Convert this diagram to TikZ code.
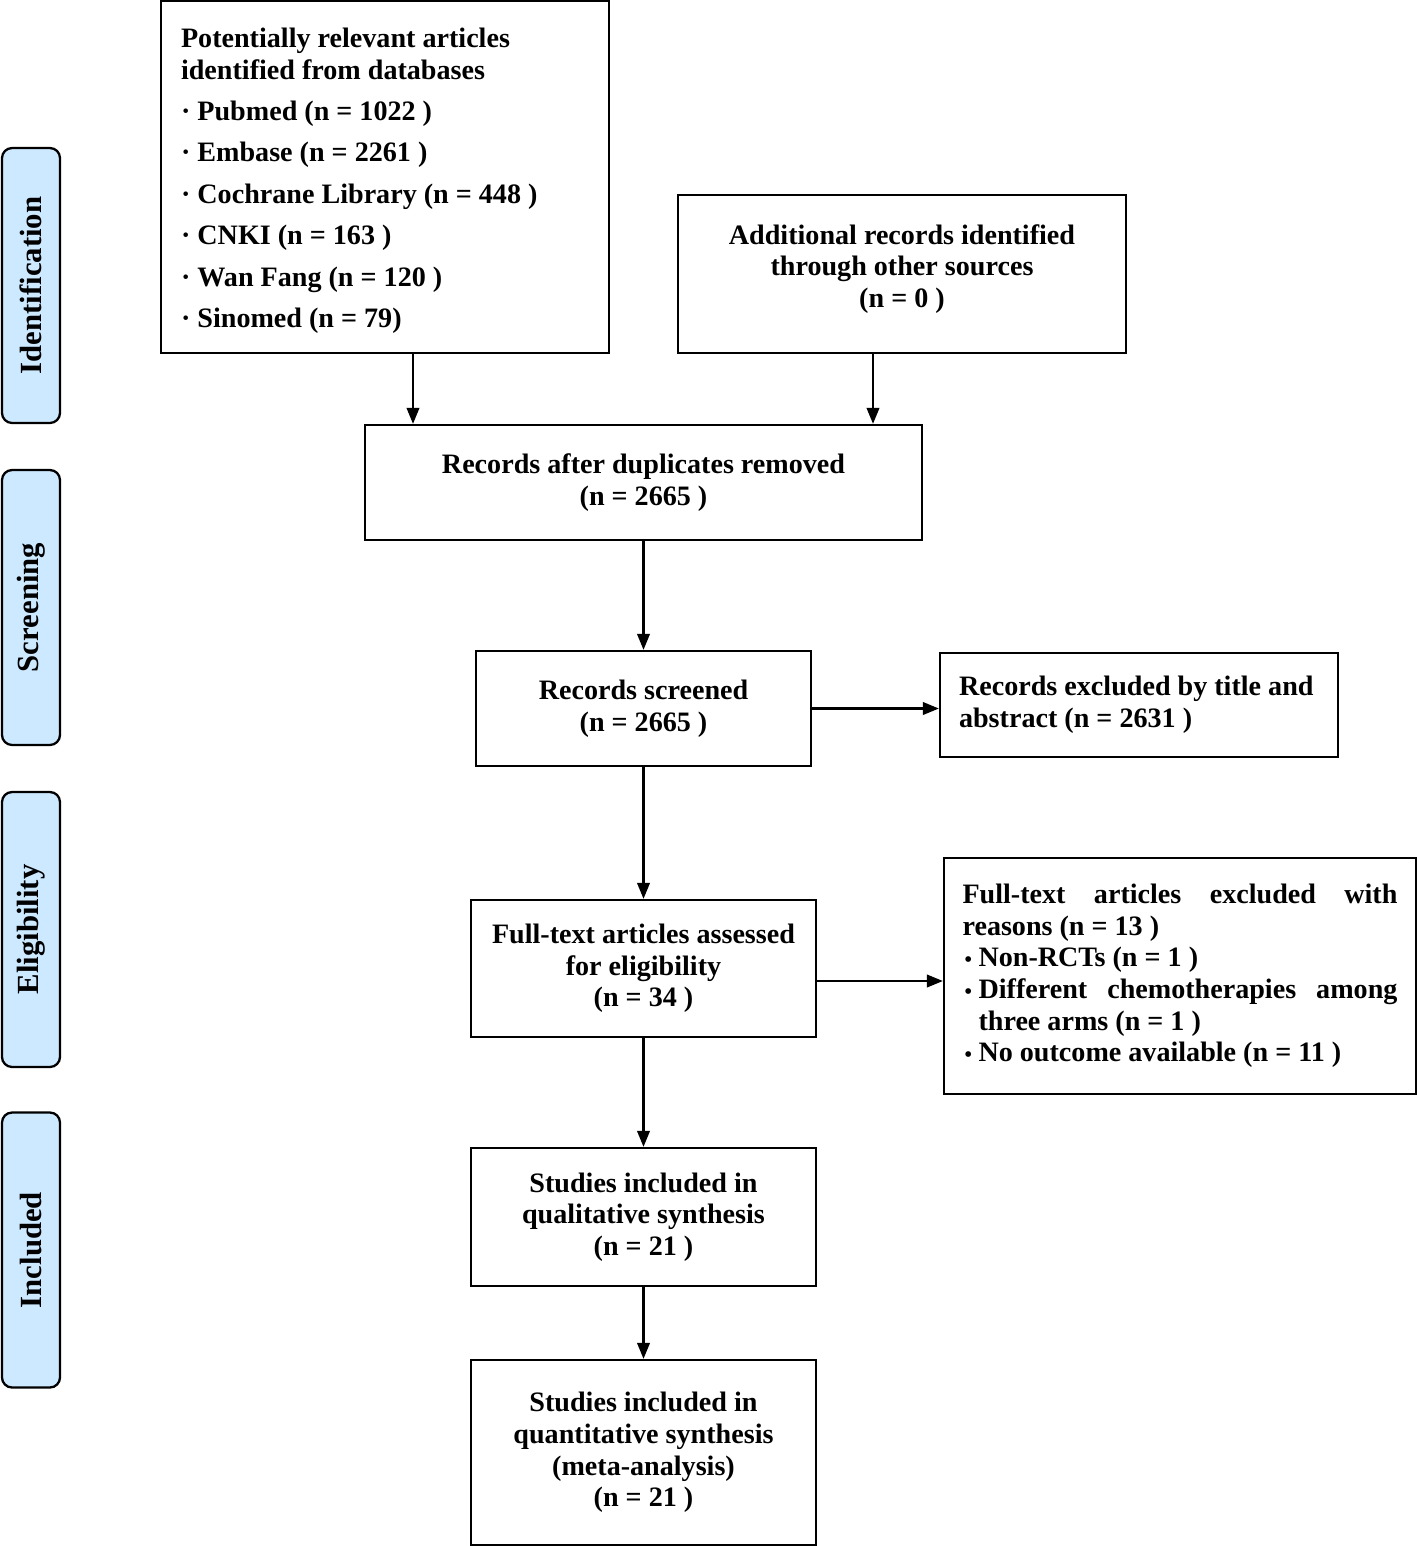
\documentclass[tikz,border=0pt]{standalone}
\usepackage{fontspec}
\setmainfont{Liberation Serif}
\usetikzlibrary{positioning, arrows.meta}
\definecolor{stagefill}{HTML}{CCE9FF}
\newcommand\smbul{\makebox[0.32cm][l]{\hspace{0.04cm}{\fontsize{12}{12}\selectfont\textbullet}}}

\begin{document}
\begin{tikzpicture}[x=0.02cm, y=-0.02cm, font=\bfseries\fontsize{16}{18}\selectfont,
  box/.style={rectangle, draw, line width=1.3pt, align=center, inner sep=0pt},
  stage/.style={rectangle, rounded corners=0.2cm, draw, line width=1.3pt, fill=stagefill,
    rotate=90, minimum width=5.5cm, minimum height=1.16cm, font=\bfseries\fontsize{17.5}{20}\selectfont},
  arr/.style={line width=1.3pt, -{Triangle[length=0.32cm, width=0.25cm]}}]
\useasboundingbox (0,0) rectangle (1417,1546);

% stage labels on the left
\node[stage] (ident) at (31,285.5) {Identification};
\node[stage] (screening) at (31,607.5) {Screening};
\node[stage] (elig) at (31,929.5) {Eligibility};
\node[stage] (incl) at (31,1250) {Included};

% identification
\node[box, align=left, text width=8.16cm, inner xsep=0.4cm, minimum height=7.04cm] (db) at (385,177)
  {\spaceskip=0pt\xspaceskip=0pt
   \rule{0pt}{15.5pt}Potentially relevant articles\\identified from databases\\[5.6pt]
   · Pubmed (n = 1022 )\\[5.6pt]
   · Embase (n = 2261 )\\[5.6pt]
   · Cochrane Library (n = 448 )\\[5.6pt]
   · CNKI (n = 163 )\\[5.6pt]
   · Wan Fang (n = 120 )\\[5.6pt]
   · Sinomed (n = 79)};
\node[box, minimum width=8.96cm, minimum height=3.16cm] (add) at (902,274)
  {Additional records identified\\through other sources\\(n = 0 )\\[-9pt]};

% screening
\node[box, minimum width=11.14cm, minimum height=2.3cm] (dup) at (643.5,482.5)
  {Records after duplicates removed\\(n = 2665 )};
\node[box, minimum width=6.7cm, minimum height=2.3cm] (screen) at (643.5,708.5)
  {Records screened\\(n = 2665 )};
\node[box, align=left, text width=7.2cm, inner xsep=0.38cm, minimum height=2.08cm] (excltitle) at (1139,705)
  {\spaceskip=0pt\xspaceskip=0pt
   Records excluded by title and\\abstract (n = 2631 )};

% eligibility
\node[box, minimum width=6.9cm, minimum height=2.74cm] (fulltext) at (643.5,968.5)
  {Full-text articles assessed\\for eligibility\\(n = 34 )};
\node[box, align=left, text width=8.7cm, inner xsep=0.37cm, minimum height=4.72cm] (exclfull) at (1180,976)
  {\spaceskip=0pt\xspaceskip=0pt
   \makebox[\linewidth][l]{Full-text\hfill articles\hfill excluded\hfill with}\\
   reasons (n = 13 )\\
   \smbul Non-RCTs (n = 1 )\\
   \smbul\makebox[\dimexpr\linewidth-0.32cm][l]{Different\hfill chemotherapies\hfill among}\\
   \hspace*{0.32cm}three arms (n = 1 )\\
   \smbul No outcome available (n = 11 )};

% included
\node[box, minimum width=6.9cm, minimum height=2.76cm] (qual) at (643.5,1217)
  {Studies included in\\qualitative synthesis\\(n = 21 )};
\node[box, minimum width=6.9cm, minimum height=3.7cm] (quant) at (643.5,1452.5)
  {Studies included in\\quantitative synthesis\\(meta-analysis)\\(n = 21 )};

% connectors
\coordinate (dbout) at ([xshift=0.56cm]db.south);
\coordinate (addout) at ([xshift=-0.58cm]add.south);
\coordinate (ftout) at ([yshift=-0.25cm]fulltext.east);
\draw[arr] (dbout) -- (dbout |- dup.north);
\draw[arr] (addout) -- (addout |- dup.north);
\draw[arr] (dup.south) -- (screen.north);
\draw[arr] (screen.east) -- (screen.east -| excltitle.west);
\draw[arr] (screen.south) -- (fulltext.north);
\draw[arr] (ftout) -- (ftout -| exclfull.west);
\draw[arr] (fulltext.south) -- (qual.north);
\draw[arr] (qual.south) -- (quant.north);
\end{tikzpicture}
\end{document}
